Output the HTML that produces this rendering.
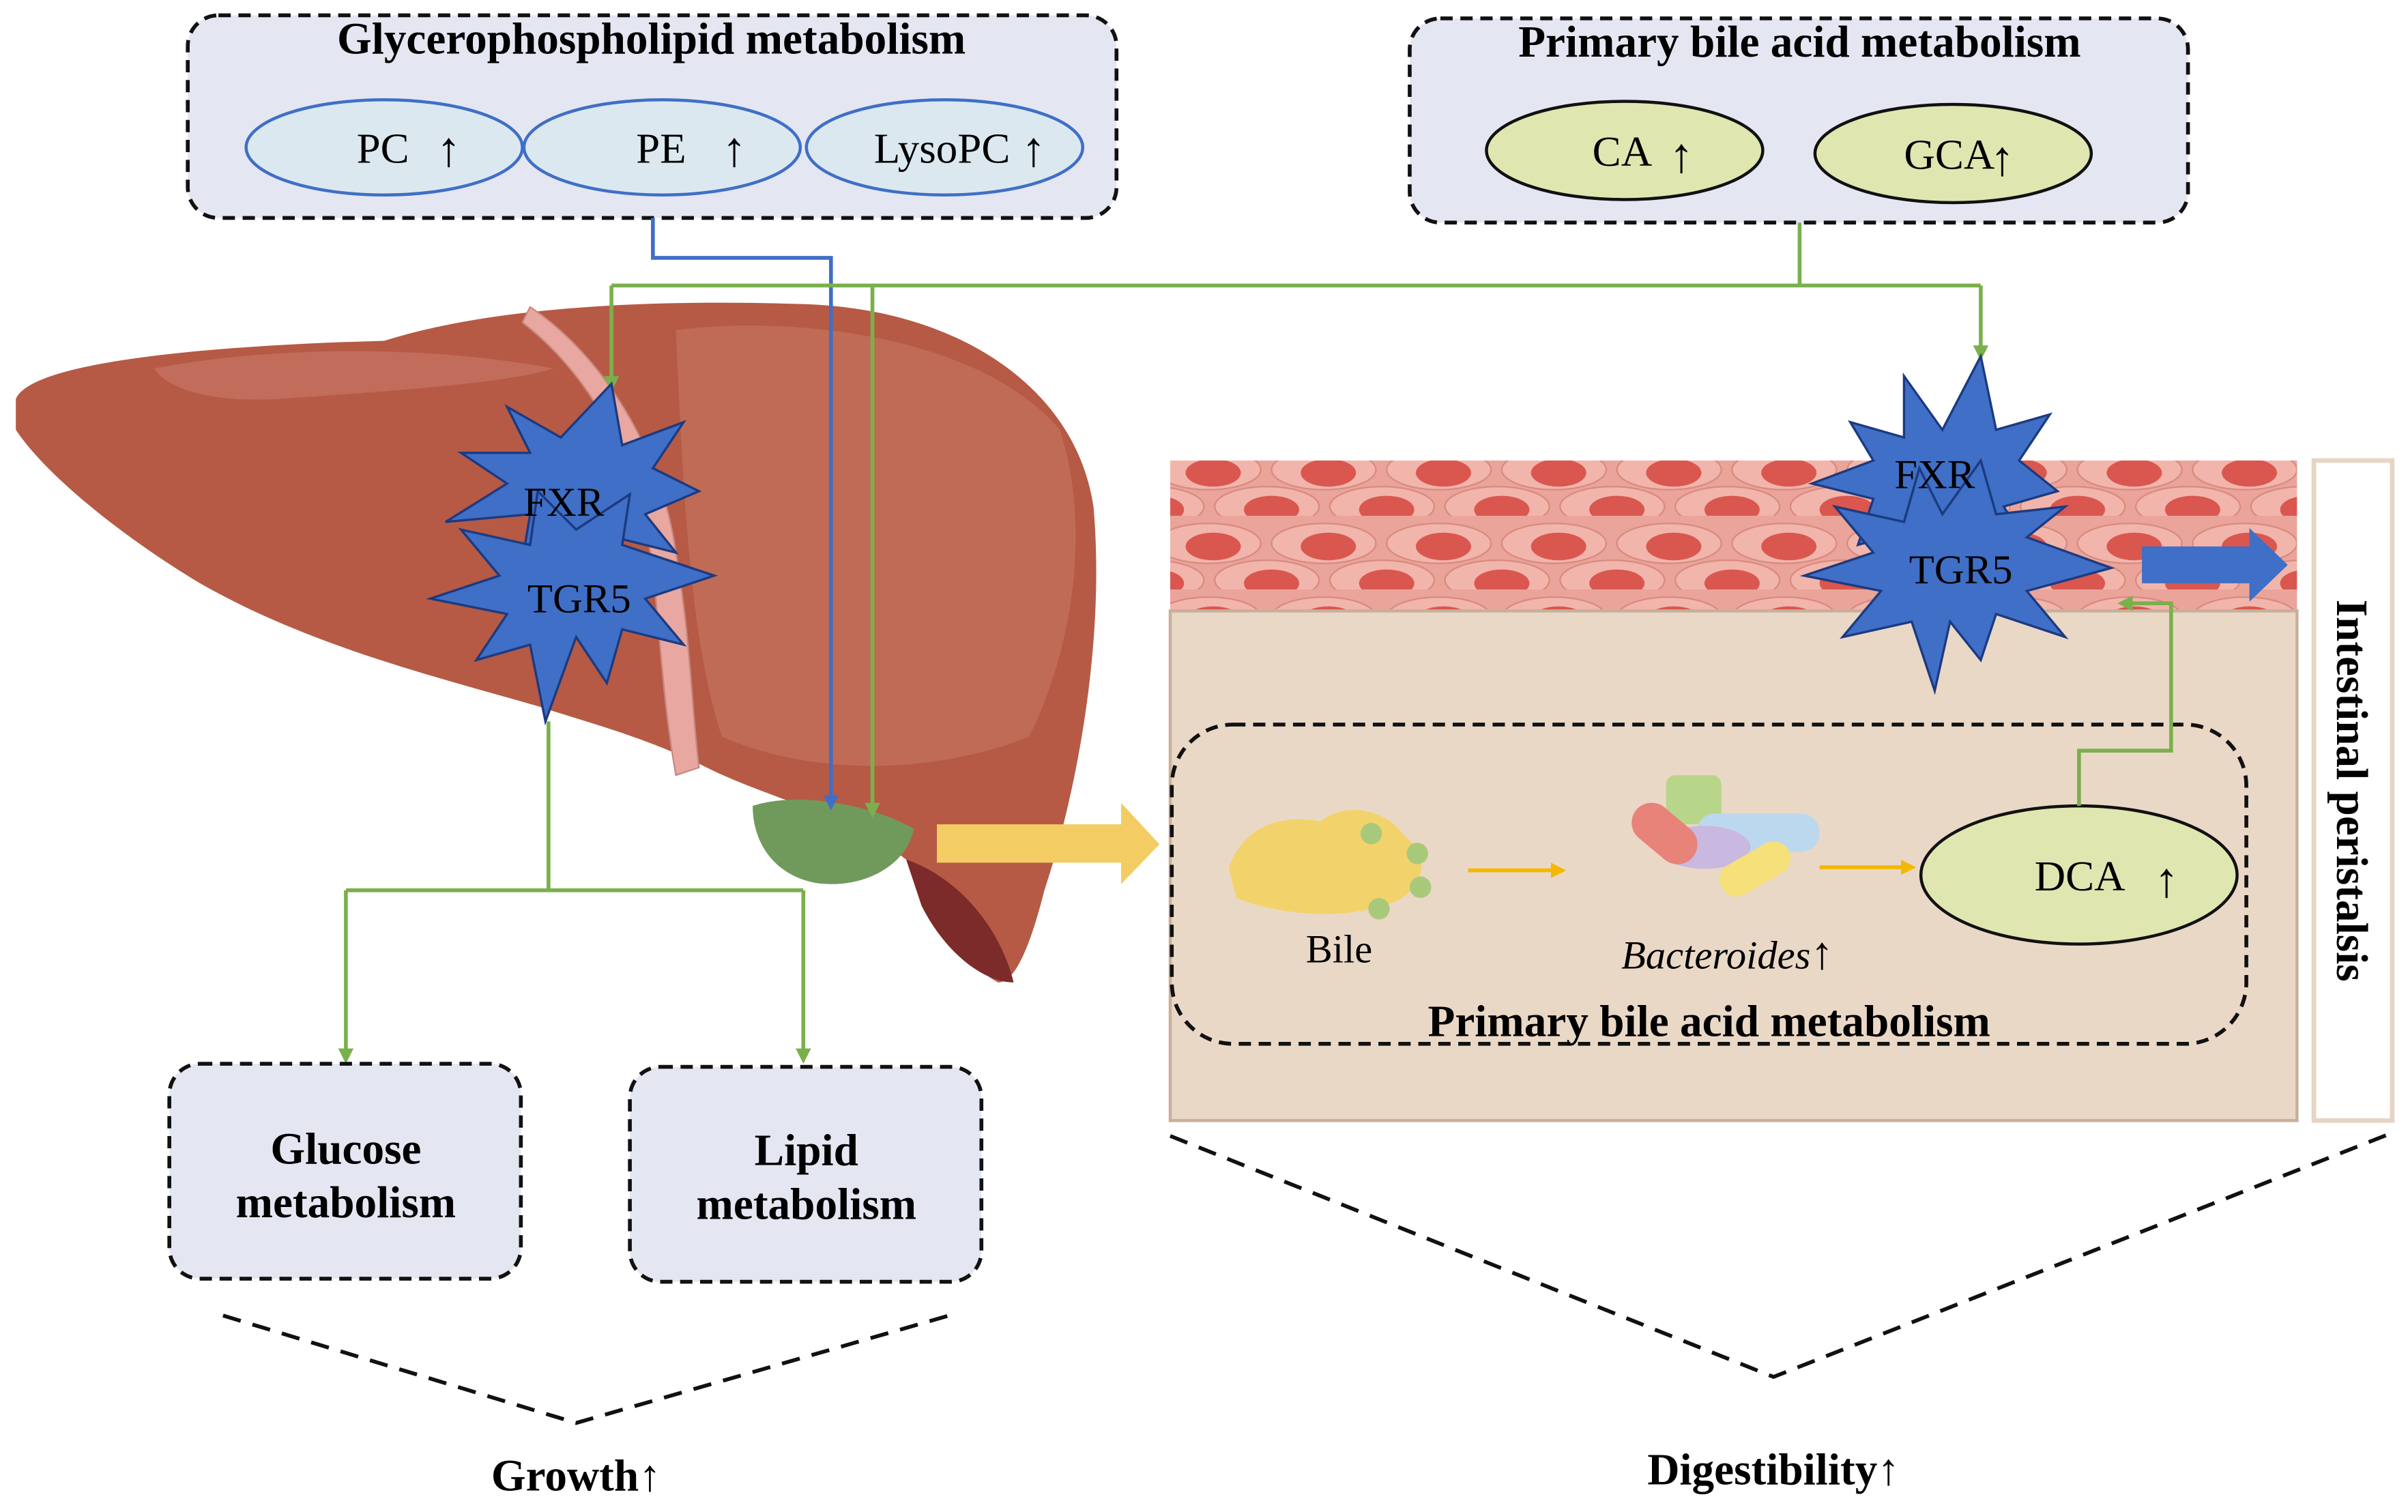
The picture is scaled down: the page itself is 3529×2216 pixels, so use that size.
<!DOCTYPE html>
<html><head><meta charset="utf-8"><style>
html,body{margin:0;padding:0;background:#fff;}
svg{display:block;}
text{font-family:"Liberation Serif",serif;}
</style></head><body>
<svg width="3529" height="2216" viewBox="0 0 1568 985" xmlns="http://www.w3.org/2000/svg">
<defs>
<marker id="ag" markerWidth="10" markerHeight="10" refX="5" refY="5" orient="auto" markerUnits="userSpaceOnUse"><path d="M0,0 L10,5 L0,10 z" fill="#7ab04c"/></marker>
<marker id="ab" markerWidth="10" markerHeight="10" refX="5" refY="5" orient="auto" markerUnits="userSpaceOnUse"><path d="M0,0 L10,5 L0,10 z" fill="#3f6fc6"/></marker>
<marker id="ay" markerWidth="10" markerHeight="10" refX="5" refY="5" orient="auto" markerUnits="userSpaceOnUse"><path d="M0,0 L10,5 L0,10 z" fill="#f5b800"/></marker>
<pattern id="cells" width="75" height="48" patternUnits="userSpaceOnUse">
<rect width="75" height="48" fill="#eaa49a"/>
<ellipse cx="37" cy="18" rx="34" ry="13" fill="#f2b5ab" stroke="#d88a80"/>
<ellipse cx="40" cy="20" rx="18" ry="9" fill="#d9574f"/>
<ellipse cx="0" cy="42" rx="34" ry="13" fill="#f2b5ab" stroke="#d88a80"/>
<ellipse cx="75" cy="42" rx="34" ry="13" fill="#f2b5ab" stroke="#d88a80"/>
<ellipse cx="3" cy="44" rx="18" ry="9" fill="#d9574f"/>
<ellipse cx="78" cy="44" rx="18" ry="9" fill="#d9574f"/>
</pattern>
</defs>

<!-- Liver -->
<path d="M10,260 C20,235 140,225 250,222 C320,200 420,195 520,198 C620,200 700,250 712,330 C720,420 700,520 680,580 C670,620 660,640 650,640 C630,630 610,600 590,560 C550,530 500,520 460,500 C420,480 380,470 350,460 C280,440 200,420 130,380 C80,350 30,310 10,280 Z" fill="#b65a45"/>
<path d="M440,215 C520,205 640,220 690,280 C710,340 700,420 670,480 C620,500 540,510 470,480 C450,420 445,330 440,215 Z" fill="#c06b55"/>
<path d="M100,240 C180,225 280,225 360,240 C330,250 250,255 180,260 C140,262 110,255 100,240 Z" fill="#c9786a" opacity="0.6"/>
<path d="M590,560 C620,570 650,600 660,640 C640,640 615,620 600,590 Z" fill="#7d2a2a"/>
<path d="M345,200 C390,230 430,290 440,360 C450,420 450,460 455,500 L440,505 C432,460 430,420 425,370 C415,300 385,245 340,210 Z" fill="#e8a7a0" stroke="#c98880"/>
<path d="M490,525 C520,515 570,525 595,540 C590,565 560,580 530,575 C505,570 490,550 490,525 Z" fill="#6f9a5b"/>

<!-- Top-left box -->
<rect x="122" y="10" width="605" height="132" rx="20" fill="#e4e6f2" stroke="#111" stroke-width="2.5" stroke-dasharray="8,5"/>
<text x="424" y="35" font-size="29" font-weight="bold" text-anchor="middle">Glycerophospholipid metabolism</text>
<g fill="#dce8f0" stroke="#3f6fc6" stroke-width="2">
<ellipse cx="250" cy="96" rx="90" ry="31"/><ellipse cx="431" cy="96" rx="90" ry="31"/><ellipse cx="615" cy="96" rx="90" ry="31"/></g>
<g font-size="28">
<text x="232" y="106">PC</text><text x="284" y="108" font-size="32">↑</text>
<text x="414" y="106">PE</text><text x="470" y="108" font-size="32">↑</text>
<text x="569" y="106">LysoPC</text><text x="665" y="108" font-size="32">↑</text></g>

<!-- Top-right box -->
<rect x="918" y="12" width="507" height="133" rx="20" fill="#e4e6f2" stroke="#111" stroke-width="2.5" stroke-dasharray="8,5"/>
<text x="1172" y="37" font-size="29" font-weight="bold" text-anchor="middle">Primary bile acid metabolism</text>
<g fill="#e0e6b0" stroke="#111" stroke-width="2">
<ellipse cx="1058" cy="98" rx="90" ry="32"/><ellipse cx="1272" cy="100" rx="90" ry="32"/></g>
<g font-size="28">
<text x="1037" y="108">CA</text><text x="1087" y="112" font-size="32">↑</text>
<text x="1240" y="110">GCA</text><text x="1296" y="114" font-size="32">↑</text></g>

<!-- connectors -->
<polyline points="425,142 425,168 541,168 541,523" fill="none" stroke="#3f6fc6" stroke-width="2.5" marker-end="url(#ab)"/>
<g fill="none" stroke="#7ab04c" stroke-width="2.5">
<polyline points="1172,145 1172,186"/>
<polyline points="398,186 1290,186"/>
<polyline points="398,186 398,250" marker-end="url(#ag)"/>
<polyline points="568,186 568,528" marker-end="url(#ag)"/>
<polyline points="1290,186 1290,230" marker-end="url(#ag)"/>
</g>

<!-- Intestine -->
<rect x="762" y="300" width="734" height="98" fill="url(#cells)"/>
<rect x="762" y="398" width="734" height="332" fill="#ead8c7" stroke="#c8b09a" stroke-width="2"/>
<rect x="1507" y="300" width="51" height="430" fill="#fff" stroke="#e6d5c4" stroke-width="3"/>
<text transform="translate(1522,515) rotate(90)" font-size="29" font-weight="bold" text-anchor="middle">Intestinal peristalsis</text>

<rect x="763" y="472" width="700" height="208" rx="40" fill="none" stroke="#111" stroke-width="2.5" stroke-dasharray="8,5"/>
<text x="1113" y="675" font-size="29" font-weight="bold" text-anchor="middle">Primary bile acid metabolism</text>
<!-- bile blob -->
<path d="M800,565 C810,540 830,530 860,535 C880,520 905,530 915,545 C935,560 925,585 900,590 C870,600 830,595 805,585 Z" fill="#f2d36b"/>
<g fill="#a9c97a"><circle cx="893" cy="543" r="7"/><circle cx="923" cy="556" r="7"/><circle cx="925" cy="578" r="7"/><circle cx="898" cy="592" r="7"/></g>
<text x="872" y="627" font-size="26" text-anchor="middle">Bile</text>
<!-- bacteria -->
<rect x="1085" y="505" width="36" height="32" rx="6" fill="#b8d68a"/>
<rect x="1105" y="530" width="80" height="25" rx="12" fill="#bcd8ee"/>
<ellipse cx="1110" cy="552" rx="30" ry="14" fill="#c9b8e0"/>
<rect x="1118" y="555" width="50" height="22" rx="11" transform="rotate(-30 1143 566)" fill="#f5e07a"/>
<rect x="1060" y="530" width="48" height="26" rx="13" transform="rotate(40 1084 543)" fill="#e8837a"/>
<text x="1125" y="631" font-size="26" text-anchor="middle"><tspan font-style="italic">Bacteroides</tspan><tspan font-size="30">↑</tspan></text>
<line x1="956" y1="567" x2="1015" y2="567" stroke="#f5b800" stroke-width="2.5" marker-end="url(#ay)"/>
<line x1="1185" y1="565" x2="1243" y2="565" stroke="#f5b800" stroke-width="2.5" marker-end="url(#ay)"/>
<ellipse cx="1354" cy="570" rx="103" ry="45" fill="#e0e6b0" stroke="#111" stroke-width="2"/>
<text x="1325" y="580" font-size="28">DCA</text><text x="1403" y="584" font-size="32">↑</text>
<polyline points="1354,525 1354,489 1414,489 1414,393 1384,393" fill="none" stroke="#7ab04c" stroke-width="2.5" marker-end="url(#ag)"/>

<!-- arrows -->
<polygon points="610,537 730,537 730,523 755,550 730,576 730,562 610,562" fill="#f3cc63"/>
<polygon points="1395,356 1465,356 1465,344 1490,368 1465,392 1465,380 1395,380" fill="#3f6fc6"/>

<!-- stars -->
<g fill="#3f6fc6" stroke="#1c3a80" stroke-width="1.5">
<polygon points="398,250 405,290 445,275 425,305 455,320 420,335 440,360 400,350 390,380 370,350 340,365 345,335 290,340 330,315 300,295 345,295 330,265 365,285"/>
<polygon points="410,322 405,355 465,375 420,390 445,420 405,410 395,445 375,415 355,470 345,420 310,430 330,400 280,390 325,375 300,345 345,355 350,320 375,345"/>
<polygon points="1290,232 1300,280 1335,270 1315,300 1340,320 1305,330 1320,355 1280,345 1265,375 1245,345 1210,355 1220,325 1180,315 1220,300 1205,275 1240,285 1240,245 1265,280"/>
<polygon points="1290,300 1300,335 1345,330 1320,350 1375,370 1320,385 1345,415 1300,400 1290,430 1270,405 1260,450 1245,405 1200,415 1225,385 1175,375 1220,360 1195,330 1240,340 1250,305 1265,335"/>
</g>
<g font-size="27" text-anchor="middle">
<text x="367" y="336">FXR</text><text x="377" y="399">TGR5</text>
<text x="1260" y="318">FXR</text><text x="1277" y="380">TGR5</text></g>

<!-- lower connectors -->
<g fill="none" stroke="#7ab04c" stroke-width="2.5">
<polyline points="357,470 357,580"/>
<polyline points="225,580 523,580"/>
<polyline points="225,580 225,688" marker-end="url(#ag)"/>
<polyline points="523,580 523,688" marker-end="url(#ag)"/>
</g>
<rect x="110" y="693" width="229" height="140" rx="20" fill="#e4e6f2" stroke="#111" stroke-width="2.5" stroke-dasharray="8,5"/>
<rect x="410" y="695" width="229" height="140" rx="20" fill="#e4e6f2" stroke="#111" stroke-width="2.5" stroke-dasharray="8,5"/>
<g font-size="29" font-weight="bold" text-anchor="middle">
<text x="225" y="758">Glucose</text><text x="225" y="793">metabolism</text>
<text x="525" y="759">Lipid</text><text x="525" y="794">metabolism</text>
<text x="375" y="971">Growth↑</text>
<text x="1155" y="967">Digestibility↑</text></g>
<g fill="none" stroke="#111" stroke-width="2.5" stroke-dasharray="12,8">
<polyline points="145,857 375,927 618,857"/>
<polyline points="762,740 1155,897 1558,738"/>
</g>
</svg>
</body></html>
